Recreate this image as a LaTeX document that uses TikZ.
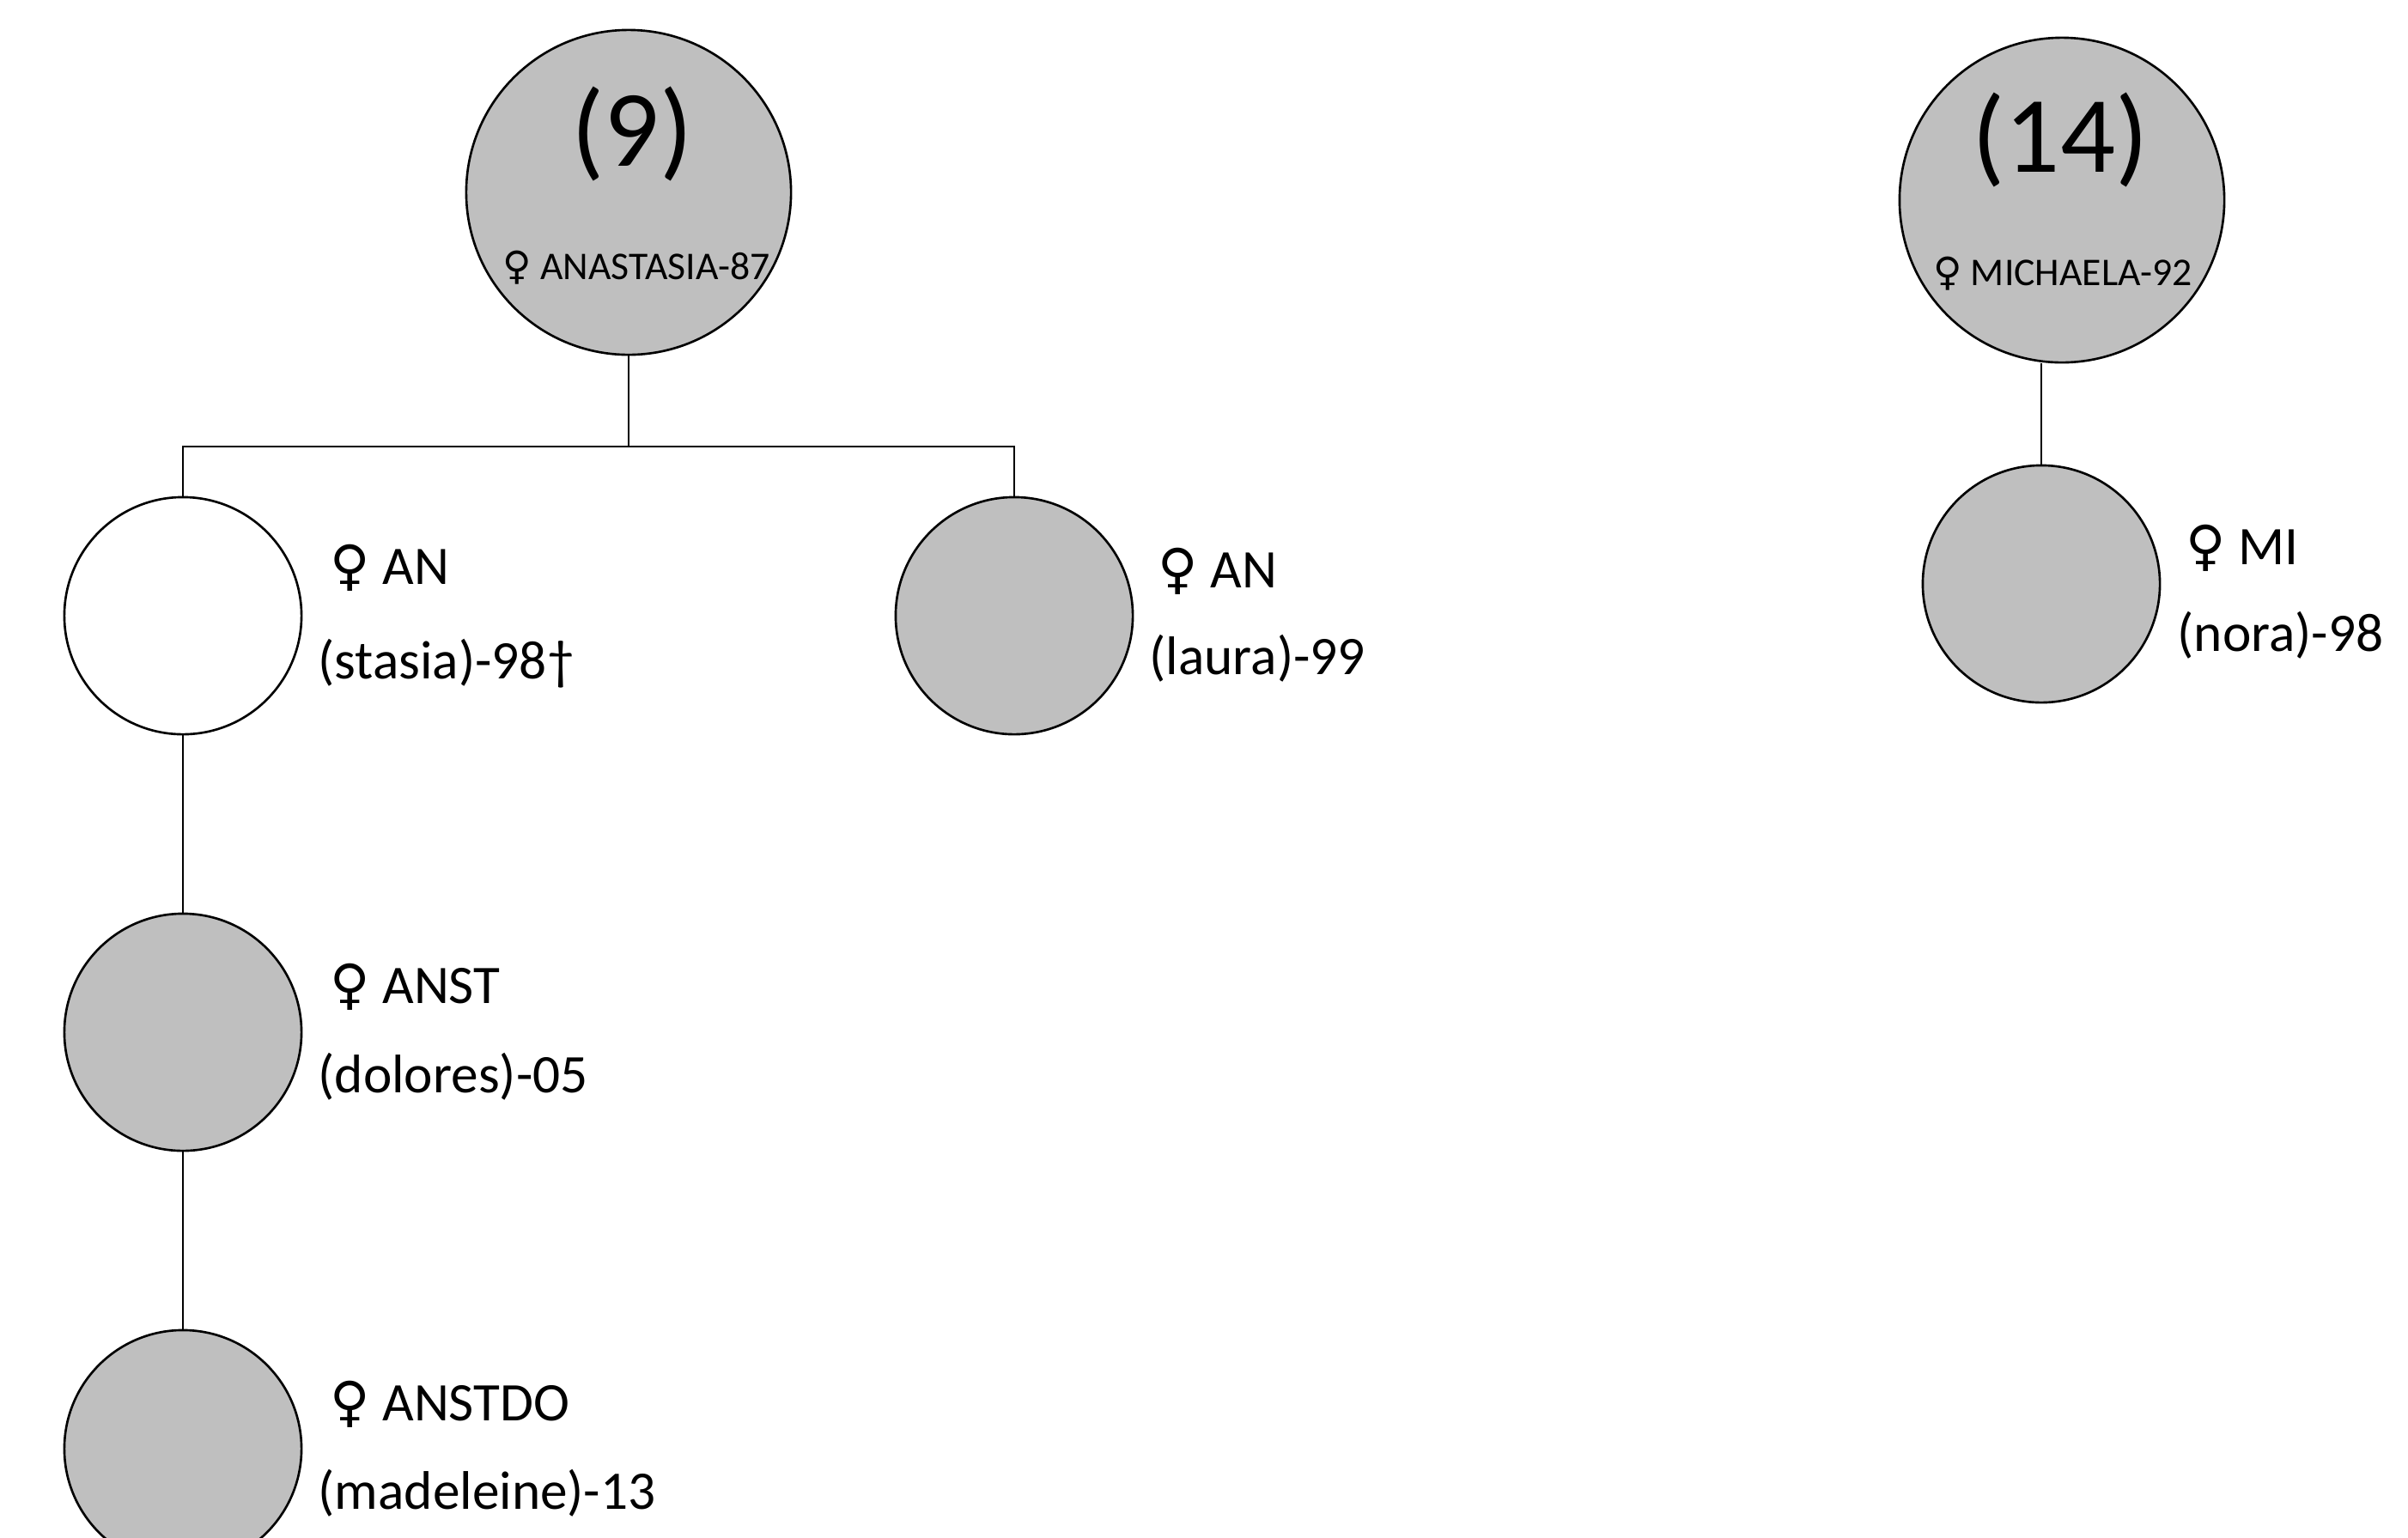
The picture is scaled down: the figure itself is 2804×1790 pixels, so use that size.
\documentclass[tikz,border=0pt]{standalone}
\usepackage{fontspec}
\setmainfont{Carlito}
\newfontfamily\sym{DejaVu Sans}
\definecolor{pgray}{RGB}{191,191,191}
\begin{document}
\begin{tikzpicture}[x=0.01cm,y=-0.01cm,
  big/.style={circle,draw=black,line width=0.75pt,fill=pgray,minimum size=3.78cm,inner sep=0},
  small/.style={circle,draw=black,line width=0.75pt,fill=pgray,minimum size=2.76cm,inner sep=0},
  open/.style={small,fill=white},
  conn/.style={line width=0.6pt,draw=black},
  lbl/.style={anchor=base west,inner sep=0,font=\fontsize{18}{20}\selectfont},
  numtxt/.style={anchor=base,inner sep=0,font=\fontsize{36}{40}\selectfont},
  intxt/.style={anchor=base,inner sep=0,font=\fontsize{13}{15}\selectfont}]
\useasboundingbox (0,0) rectangle (2804,1790);
\clip (0,0) rectangle (2804,1790);
% circles
\node[big] (p9) at (732,224) {};
\node[big] (p14) at (2401,233) {};
\node[open] (stasia) at (213,717) {};
\node[small] (laura) at (1181,717) {};
\node[small] (nora) at (2377,680) {};
\node[small] (dolores) at (213,1202) {};
\node[small] (madeleine) at (213,1687) {};
% connectors
\coordinate (bar) at (732,520);
\draw[conn] (p9.south) -- (bar);
\draw[conn] (stasia.north) |- (bar) -| (laura.north);
\draw[conn] (stasia.south) -- (dolores.north);
\draw[conn] (dolores.south) -- (madeleine.north);
\draw[conn] (nora.north) -- (nora.north |- p14.south);
% texts inside big circles
\node[numtxt] (t9) at (736,193) {(9)};
\node[intxt] (n9) at (741,325) {{\sym ♀} ANASTASIA-87};
\node[numtxt] (t14) at (2399,200) {(14)};
\node[intxt] (n14) at (2402,332) {{\sym ♀} MICHAELA-92};
% labels
\node[lbl] (sa) at (384,680) {{\sym ♀} AN};
\node[lbl] (sb) at (370,790) {(stasia)-98†};
\node[lbl] (la) at (1348,684) {{\sym ♀} AN};
\node[lbl] (lb) at (1338,785) {(laura)-99};
\node[lbl] (na) at (2545,657) {{\sym ♀} MI};
\node[lbl] (nb) at (2535,758) {(nora)-98};
\node[lbl] (da) at (384,1168) {{\sym ♀} ANST};
\node[lbl] (db) at (370,1272) {(dolores)-05};
\node[lbl] (ma) at (384,1654) {{\sym ♀} ANSTDO};
\node[lbl] (mb) at (370,1757) {(madeleine)-13};
\end{tikzpicture}
\end{document}
